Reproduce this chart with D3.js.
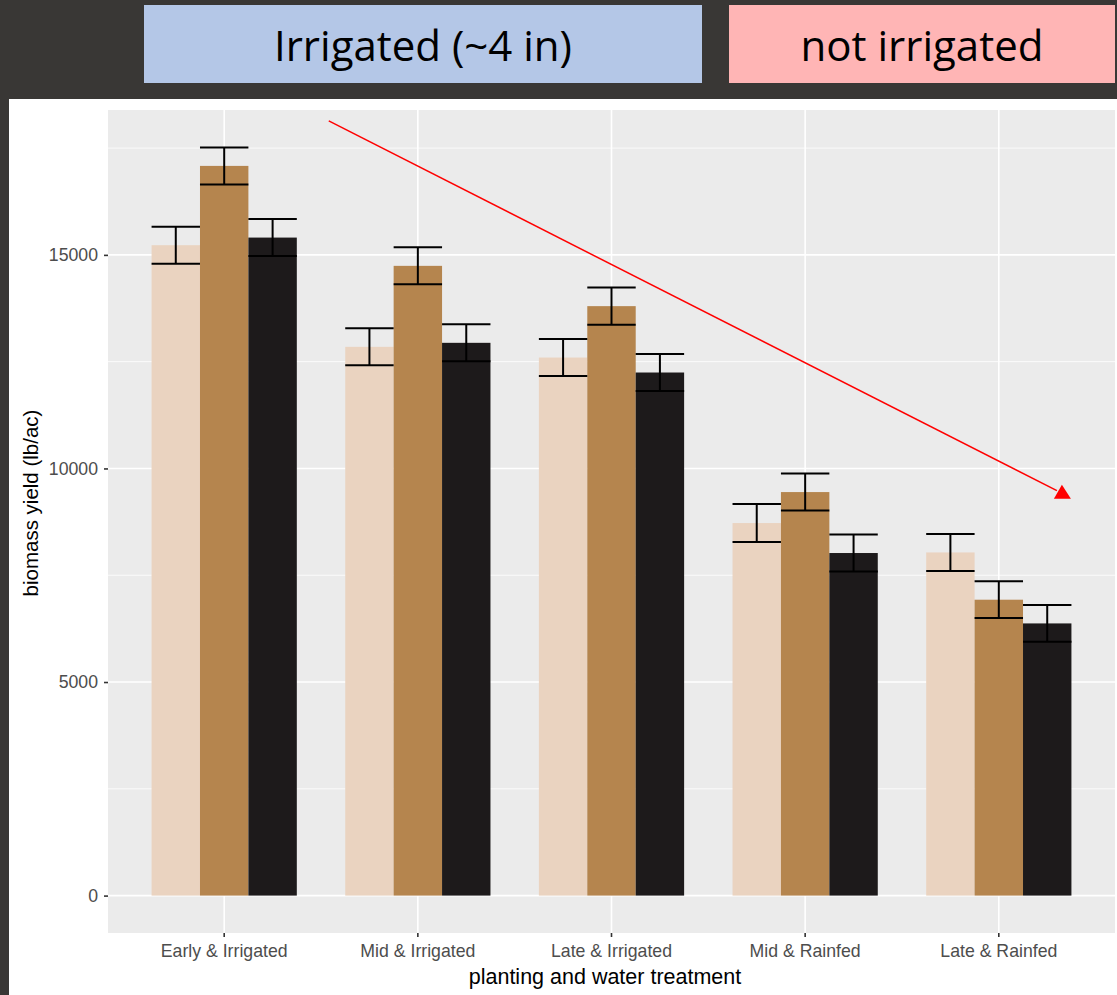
<!DOCTYPE html>
<html>
<head>
<meta charset="utf-8">
<script src="https://cdn.jsdelivr.net/npm/d3@7"></script>
<style>
  html, body { margin: 0; padding: 0; background: #393735; }
  svg { display: block; }
</style>
</head>
<body>
<svg id="chart" width="1117" height="995"></svg>
<script>
// ---- data ----
const categories = ["Early & Irrigated", "Mid & Irrigated", "Late & Irrigated", "Mid & Rainfed", "Late & Rainfed"];
const series = ["A", "B", "C"];
const seriesColors = ["#ead3c0", "#b5854e", "#1d1a1b"];
const valuesA = [15227, 12847, 12597, 8722, 8034];
const valuesB = [17083, 14743, 13800, 9447, 6927];
const valuesC = [15405, 12941, 12246, 8020, 6372];
const seA = [433, 433, 433, 445, 433];
const seB = [433, 433, 436, 433, 430];
const seC = [433, 433, 433, 433, 430];
const yTicks = [0, 5000, 10000, 15000];
const yMinorTicks = [2500, 7500, 12500, 17500];
const headerLabels = ["Irrigated (~4 in)", "not irrigated"];
const headerColors = ["#b4c7e7", "#ffb5b5"];
// annotation arrow in (category position, value) units
const arrowStart = [0.54, 18136];
const arrowEnd = [4.30, 9480];

const valuesBySeries = [valuesA, valuesB, valuesC];
const seBySeries = [seA, seB, seC];
const rows = [];
categories.forEach((c, i) => {
  series.forEach((s, j) => {
    rows.push({cat: c, ser: s, j, value: valuesBySeries[j][i], se: seBySeries[j][i]});
  });
});

const svg = d3.select("#chart");
// white plot canvas
svg.append("rect").attr("x", 9).attr("y", 99).attr("width", 1108).attr("height", 896).attr("fill", "#ffffff");

// header boxes
const headerBoxes = [{x: 144, w: 558}, {x: 729, w: 386}];
headerLabels.forEach((t, i) => {
  svg.append("rect").attr("x", headerBoxes[i].x).attr("y", 5).attr("width", headerBoxes[i].w).attr("height", 78)
    .attr("fill", headerColors[i]);
  svg.append("text").attr("x", headerBoxes[i].x + headerBoxes[i].w / 2).attr("y", 61)
    .attr("text-anchor", "middle").attr("font-family", "'Open Sans', 'Noto Sans', sans-serif")
    .attr("font-size", 42).attr("fill", "#000").text(t);
});

// panel
const P = {left: 108, right: 1115, top: 110, bottom: 933};
const ymax = d3.max(rows, d => d.value + d.se);
const pad = 0.05 * ymax;
const y = d3.scaleLinear().domain([-pad, ymax + pad]).range([P.bottom, P.top]);
const x = d3.scaleBand().domain(categories).range([P.left, P.right]).paddingInner(0).paddingOuter(0.1);
const xs = d3.scaleBand().domain(series).range([0, x.bandwidth() * 0.75]);
const xc = d3.scaleLinear().domain([-0.6, categories.length - 0.4]).range([P.left, P.right]);

svg.append("rect").attr("x", P.left).attr("y", P.top).attr("width", P.right - P.left).attr("height", P.bottom - P.top)
  .attr("fill", "#ebebeb");

const grid = svg.append("g");
grid.selectAll("line.minor").data(yMinorTicks).join("line")
  .attr("x1", P.left).attr("x2", P.right).attr("y1", d => y(d)).attr("y2", d => y(d))
  .attr("stroke", "#fff").attr("stroke-width", 0.8);
grid.selectAll("line.majory").data(yTicks).join("line")
  .attr("x1", P.left).attr("x2", P.right).attr("y1", d => y(d)).attr("y2", d => y(d))
  .attr("stroke", "#fff").attr("stroke-width", 1.6);
grid.selectAll("line.majorx").data(categories).join("line")
  .attr("y1", P.top).attr("y2", P.bottom).attr("x1", d => x(d) + x.bandwidth() / 2).attr("x2", d => x(d) + x.bandwidth() / 2)
  .attr("stroke", "#fff").attr("stroke-width", 1.6);

// bars
const off = d => x(d.cat) + x.bandwidth() * 0.125 + xs(d.ser);
svg.append("g").selectAll("rect").data(rows).join("rect")
  .attr("x", off).attr("width", xs.bandwidth())
  .attr("y", d => y(d.value)).attr("height", d => y(0) - y(d.value))
  .attr("fill", d => seriesColors[d.j]);

// error bars
const eb = svg.append("g").attr("stroke", "#000").attr("stroke-width", 2).attr("fill", "none");
rows.forEach(d => {
  const x0 = off(d), x1 = off(d) + xs.bandwidth(), xm = (x0 + x1) / 2;
  eb.append("line").attr("x1", xm).attr("x2", xm).attr("y1", y(d.value + d.se)).attr("y2", y(d.value - d.se));
  eb.append("line").attr("x1", x0).attr("x2", x1).attr("y1", y(d.value + d.se)).attr("y2", y(d.value + d.se));
  eb.append("line").attr("x1", x0).attr("x2", x1).attr("y1", y(d.value - d.se)).attr("y2", y(d.value - d.se));
});

// axes
const yAxis = d3.axisLeft(y).tickValues(yTicks).tickSize(4).tickPadding(6).tickFormat(d3.format("d"));
const gy = svg.append("g").attr("transform", `translate(${P.left},0)`).call(yAxis);
const xAxis = d3.axisBottom(x).tickSize(4).tickPadding(6);
const gx = svg.append("g").attr("transform", `translate(0,${P.bottom})`).call(xAxis);
[gy, gx].forEach(g => {
  g.select(".domain").remove();
  g.selectAll(".tick line").attr("stroke", "#333").attr("stroke-width", 1.6);
  g.selectAll(".tick text").attr("fill", "#4d4d4d").attr("font-family", "'Liberation Sans', Arial, sans-serif")
    .attr("font-size", 17.7);
});
gx.selectAll(".tick text").attr("dy", "0.71em").attr("y", 11.5);

// axis titles
svg.append("text").attr("x", 605).attr("y", 984).attr("text-anchor", "middle")
  .attr("font-family", "'Liberation Sans', Arial, sans-serif").attr("font-size", 21.5).attr("fill", "#000")
  .text("planting and water treatment");
svg.append("text").attr("transform", "translate(38,503) rotate(-90)").attr("text-anchor", "middle")
  .attr("font-family", "'Liberation Sans', Arial, sans-serif").attr("font-size", 20.5).attr("fill", "#000")
  .text("biomass yield (lb/ac)");

// annotation arrow
const ax0 = xc(arrowStart[0]), ay0 = y(arrowStart[1]);
const ax1 = xc(arrowEnd[0]), ay1 = y(arrowEnd[1]);
svg.append("line").attr("x1", ax0).attr("y1", ay0).attr("x2", ax1).attr("y2", ay1)
  .attr("stroke", "#ff0000").attr("stroke-width", 1.5);
svg.append("path")
  .attr("d", `M${ax1 + 5},${ay1 - 6} L${ax1 + 14},${ay1 + 8} L${ax1 - 3},${ay1 + 8} Z`)
  .attr("fill", "#ff0000");
</script>
</body>
</html>
